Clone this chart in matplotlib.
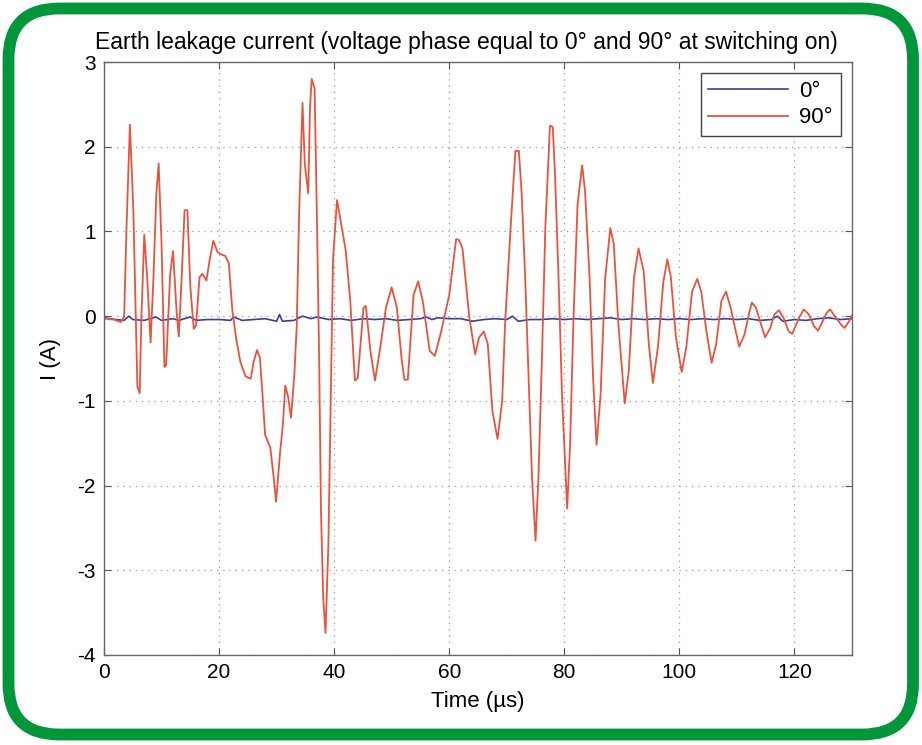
import matplotlib
matplotlib.use("Agg")
import matplotlib.pyplot as plt
from matplotlib.patches import FancyBboxPatch

plt.rcParams['font.family'] = ['Liberation Sans', 'DejaVu Sans']
plt.rcParams['axes.unicode_minus'] = False

# 90 deg switching: points (time in us, current in A)
t_90 = [0.0, 0.3, 1.7, 2.9, 3.5, 3.9, 4.5, 5.1, 5.5, 5.8,
        6.2, 6.5, 7.0, 7.5, 8.1, 8.6, 9.1, 9.5, 10.0, 10.5,
        10.8, 11.5, 12.0, 12.6, 13.0, 13.5, 14.0, 14.5, 15.0, 15.6,
        16.0, 16.6, 17.1, 17.8, 18.4, 19.0, 19.7, 20.3, 21.1, 21.7,
        22.3, 23.0, 23.7, 24.6, 25.5, 26.0, 26.6, 27.1, 27.5, 28.0,
        28.9, 29.5, 29.9, 30.6, 31.1, 31.5, 32.0, 32.5, 33.1, 33.5,
        33.9, 34.5, 34.9, 35.5, 35.8, 36.1, 36.6, 37.0, 37.4, 37.7,
        38.1, 38.5, 39.0, 39.4, 39.8, 40.5, 42.0, 42.8, 43.6, 44.1,
        45.1, 45.5, 46.3, 47.1, 48.1, 49.0, 50.0, 50.9, 51.7, 52.2,
        52.8, 53.8, 54.6, 55.4, 56.6, 57.5, 58.6, 60.0, 61.2, 61.7,
        62.3, 63.5, 64.5, 65.2, 66.0, 66.7, 67.5, 68.4, 69.2, 69.7,
        70.6, 71.5, 72.1, 72.6, 73.2, 73.8, 74.4, 75.0, 75.5, 76.1,
        76.7, 77.5, 78.0, 78.4, 79.0, 79.6, 80.5, 81.0, 81.6, 82.3,
        83.1, 83.6, 84.4, 85.0, 85.6, 86.3, 87.1, 88.0, 88.6, 89.4,
        90.5, 91.2, 92.1, 92.9, 93.8, 94.7, 95.4, 96.3, 97.2, 97.9,
        98.5, 99.4, 100.4, 101.2, 102.2, 103.1, 103.8, 104.7, 105.6, 106.4,
        107.3, 108.1, 108.9, 109.8, 110.4, 111.3, 112.2, 112.6, 113.3, 114.2,
        114.9, 115.8, 116.5, 117.3, 118.1, 119.0, 119.6, 120.8, 121.6, 122.5,
        123.4, 124.1, 124.9, 125.6, 126.2, 127.0, 128.1, 128.7, 129.5, 130.0]
i_90 = [-0.03, -0.03, -0.04, -0.07, -0.01, 1.02, 2.26, 1.25, 0.07, -0.83,
        -0.91, -0.01, 0.96, 0.46, -0.31, 0.46, 1.45, 1.80, 0.86, -0.60,
        -0.58, 0.50, 0.77, 0.07, -0.24, 0.46, 1.25, 1.25, 0.35, -0.15,
        -0.11, 0.46, 0.50, 0.42, 0.68, 0.89, 0.76, 0.73, 0.71, 0.62,
        0.07, -0.28, -0.54, -0.71, -0.74, -0.54, -0.40, -0.49, -0.88, -1.40,
        -1.55, -1.91, -2.19, -1.61, -1.27, -0.82, -0.95, -1.20, -0.67, -0.11,
        1.18, 2.52, 1.79, 1.45, 2.47, 2.80, 2.69, 1.18, -0.54, -2.26,
        -3.33, -3.74, -2.69, -0.97, 0.67, 1.37, 0.78, 0.18, -0.76, -0.73,
        0.10, 0.12, -0.41, -0.76, -0.33, 0.10, 0.34, 0.10, -0.49, -0.75,
        -0.75, 0.25, 0.41, 0.18, -0.41, -0.47, -0.18, 0.25, 0.91, 0.90,
        0.80, -0.02, -0.45, -0.25, -0.18, -0.33, -1.12, -1.45, -1.00, -0.10,
        0.97, 1.95, 1.95, 1.44, 0.45, -0.73, -1.92, -2.65, -1.91, -0.53,
        1.04, 2.25, 2.23, 1.64, 0.45, -0.93, -2.27, -1.52, -0.02, 1.32,
        1.78, 1.48, 0.45, -0.73, -1.52, -0.93, 0.45, 1.04, 0.85, -0.10,
        -1.03, -0.65, 0.45, 0.80, 0.53, -0.34, -0.79, -0.35, 0.40, 0.67,
        0.47, -0.25, -0.66, -0.37, 0.29, 0.44, 0.29, -0.18, -0.55, -0.33,
        0.18, 0.29, 0.10, -0.18, -0.36, -0.22, 0.06, 0.16, 0.10, -0.10,
        -0.25, -0.14, 0.02, 0.07, -0.02, -0.18, -0.21, -0.02, 0.08, 0.02,
        -0.12, -0.17, -0.06, 0.04, 0.08, 0.00, -0.10, -0.14, -0.06, 0.01]

# 0 deg switching: stays close to zero
t_0 = [0, 2, 3.5, 4.3, 5, 7, 9, 10, 12, 13, 15, 16, 18, 20, 22, 22.5, 24, 26,
       28, 30, 30.5, 31, 33, 34.5, 36, 37, 39, 41, 43, 45, 47, 49, 51, 53, 55,
       56, 57, 58, 60, 62, 64, 66, 68, 70, 71, 72, 74, 76, 78, 80, 82, 84, 86,
       88, 90, 92, 94, 96, 98, 100, 102, 104, 106, 108, 110, 112, 114, 116,
       117, 118, 120, 122, 124, 126, 128, 130]
i_0 = [-0.02, -0.04, -0.05, 0.0, -0.04, -0.05, -0.01, -0.05, -0.03, -0.05,
       -0.01, -0.05, -0.04, -0.04, -0.05, -0.01, -0.05, -0.04, -0.03, -0.06,
       0.02, -0.06, -0.05, 0.0, -0.03, -0.01, -0.04, -0.03, -0.05, -0.03,
       -0.04, -0.03, -0.05, -0.04, -0.03, -0.01, -0.04, -0.02, -0.03, -0.03,
       -0.06, -0.04, -0.03, -0.04, 0.0, -0.06, -0.04, -0.04, -0.03, -0.04,
       -0.03, -0.04, -0.03, -0.02, -0.04, -0.03, -0.04, -0.03, -0.04, -0.03,
       -0.04, -0.03, -0.04, -0.03, -0.04, -0.03, -0.05, -0.04, 0.0, -0.06,
       -0.04, -0.05, -0.03, -0.02, -0.04, -0.03]

x_ticks = [0, 20, 40, 60, 80, 100, 120]
y_ticks = [-4, -3, -2, -1, 0, 1, 2, 3]

fig = plt.figure(figsize=(9.22, 7.45), dpi=100)
fig.patch.set_facecolor('white')

# green rounded frame
frame = FancyBboxPatch((8.5 / 922, 10.5 / 745), 904.5 / 922, 726 / 745,
                       boxstyle="round,pad=0,rounding_size=0.055",
                       transform=fig.transFigure, facecolor='none',
                       edgecolor='#009639', linewidth=8.5, zorder=0,
                       mutation_aspect=922 / 745)
fig.patches.append(frame)

ax = fig.add_axes([104 / 922, 90 / 745, 748 / 922, 593 / 745])
ax.plot(t_0, i_0, color='#3d3d9e', lw=1.2, label='0°')
ax.plot(t_90, i_90, color='#e9533d', lw=1.3, label='90°',
        solid_joinstyle='round')

ax.set_xlim(0, 130)
ax.set_ylim(-4, 3)
ax.set_xticks(x_ticks)
ax.set_yticks(y_ticks)
ax.grid(True, color='#9a9a9a', linestyle=(0, (1, 4)), linewidth=0.9)
ax.tick_params(direction='in', top=True, right=True, labelsize=15,
               length=5, color='#555555', pad=6)
for s in ax.spines.values():
    s.set_color('#666666')
    s.set_linewidth(1.0)

ax.set_title('Earth leakage current (voltage phase equal to 0° and 90° at switching on)',
             fontsize=16.5, pad=9, x=0.485)
ax.set_xlabel('Time (µs)', fontsize=16, labelpad=6)
ax.set_ylabel('I (A)', fontsize=16, labelpad=12)

leg = ax.legend(loc='upper right', fontsize=16, fancybox=False, framealpha=1,
                edgecolor='#444444', handlelength=3.6, handletextpad=0.5,
                borderaxespad=0.5, labelspacing=0.25, borderpad=0.35)
leg.get_frame().set_linewidth(1.0)

fig.savefig('out.png', dpi=100)
